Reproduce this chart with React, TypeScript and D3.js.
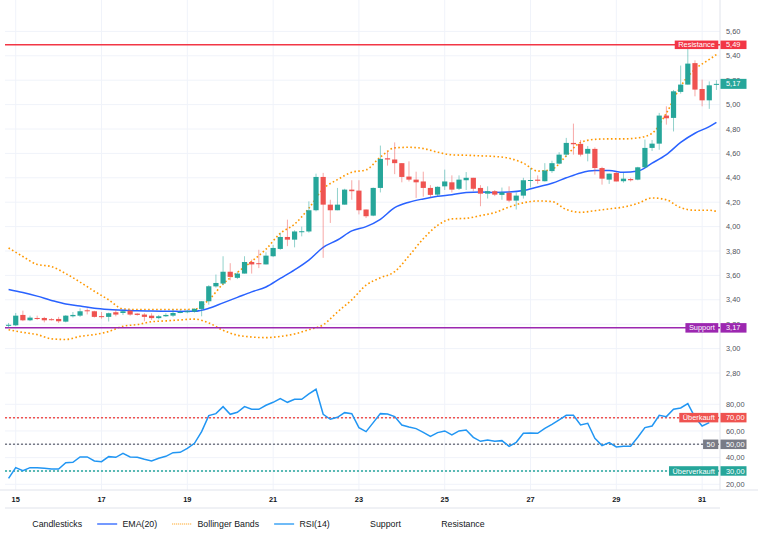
import React, { useEffect, useRef } from 'react';
import * as d3 from 'd3';

const W = 762;
const H = 550;

// ---- data ----
const candleOpen = [
  3.19, 3.191, 3.276, 3.232, 3.251, 3.251, 3.241, 3.243, 3.221, 3.265,
  3.27, 3.314, 3.306, 3.266, 3.26, 3.298, 3.292, 3.311, 3.287, 3.279,
  3.27, 3.25, 3.265, 3.27, 3.292, 3.3, 3.303, 3.325, 3.388, 3.51,
  3.533, 3.63, 3.58, 3.615, 3.71, 3.7, 3.69, 3.757, 3.817, 3.915,
  3.893, 3.96, 3.96, 4.134, 4.407, 4.18, 4.134, 4.18, 4.303, 4.295,
  4.14, 4.09, 4.317, 4.56, 4.55, 4.52, 4.41, 4.385, 4.37, 4.317,
  4.262, 4.33, 4.363, 4.31, 4.38, 4.4, 4.317, 4.27, 4.29, 4.26,
  4.277, 4.213, 4.254, 4.378, 4.385, 4.372, 4.455, 4.516, 4.59, 4.686,
  4.678, 4.598, 4.637, 4.48, 4.385, 4.44, 4.372, 4.39, 4.385, 4.486,
  4.645, 4.68, 4.91, 4.891, 5.104, 5.164, 5.34, 5.128, 5.035, 5.164,
];
const candleHigh = [
  3.21, 3.292, 3.311, 3.27, 3.27, 3.26, 3.25, 3.26, 3.275, 3.3,
  3.33, 3.33, 3.31, 3.3, 3.295, 3.32, 3.32, 3.32, 3.29, 3.29,
  3.29, 3.275, 3.29, 3.32, 3.32, 3.32, 3.33, 3.39, 3.52, 3.607,
  3.757, 3.7, 3.63, 3.757, 3.73, 3.81, 3.79, 3.85, 3.95, 4.057,
  3.97, 4.0, 4.207, 4.434, 4.44, 4.22, 4.317, 4.31, 4.38, 4.38,
  4.14, 4.32, 4.664, 4.617, 4.69, 4.52, 4.535, 4.45, 4.45, 4.34,
  4.33, 4.467, 4.42, 4.42, 4.447, 4.4, 4.34, 4.33, 4.3, 4.32,
  4.33, 4.28, 4.4, 4.48, 4.42, 4.52, 4.54, 4.61, 4.727, 4.844,
  4.71, 4.66, 4.65, 4.49, 4.435, 4.45, 4.44, 4.4, 4.49, 4.713,
  4.71, 4.932, 4.986, 5.12, 5.32, 5.465, 5.363, 5.205, 5.19, 5.2,
];
const candleLow = [
  3.17, 3.185, 3.225, 3.225, 3.235, 3.215, 3.23, 3.21, 3.215, 3.255,
  3.26, 3.28, 3.255, 3.245, 3.222, 3.265, 3.275, 3.27, 3.27, 3.224,
  3.235, 3.24, 3.26, 3.26, 3.29, 3.29, 3.295, 3.265, 3.36, 3.5,
  3.52, 3.56, 3.57, 3.615, 3.615, 3.66, 3.69, 3.75, 3.81, 3.84,
  3.83, 3.92, 3.95, 4.125, 3.744, 4.03, 4.134, 4.18, 4.22, 4.1,
  4.07, 4.085, 4.28, 4.5, 4.43, 4.363, 4.37, 4.235, 4.245, 4.24,
  4.25, 4.3, 4.28, 4.3, 4.3, 4.29, 4.167, 4.23, 4.25, 4.22,
  4.2, 4.14, 4.23, 4.32, 4.35, 4.37, 4.44, 4.51, 4.57, 4.59,
  4.575, 4.535, 4.426, 4.344, 4.35, 4.37, 4.36, 4.37, 4.38, 4.48,
  4.62, 4.63, 4.836, 4.78, 5.09, 5.164, 5.068, 4.986, 4.965, 5.12,
];
const candleClose = [
  3.195, 3.27, 3.232, 3.254, 3.247, 3.232, 3.236, 3.224, 3.27, 3.276,
  3.306, 3.306, 3.26, 3.26, 3.29, 3.279, 3.306, 3.279, 3.276, 3.26,
  3.25, 3.265, 3.276, 3.292, 3.3, 3.306, 3.326, 3.388, 3.511, 3.538,
  3.63, 3.588, 3.615, 3.71, 3.69, 3.695, 3.762, 3.825, 3.915, 3.893,
  3.96, 3.962, 4.134, 4.407, 4.18, 4.134, 4.18, 4.303, 4.29, 4.134,
  4.085, 4.317, 4.555, 4.55, 4.52, 4.407, 4.385, 4.363, 4.317, 4.26,
  4.326, 4.37, 4.303, 4.385, 4.4, 4.31, 4.27, 4.29, 4.262, 4.28,
  4.213, 4.254, 4.38, 4.382, 4.375, 4.46, 4.52, 4.59, 4.686, 4.675,
  4.59, 4.637, 4.48, 4.393, 4.434, 4.37, 4.393, 4.38, 4.486, 4.645,
  4.68, 4.91, 4.888, 5.109, 5.164, 5.336, 5.123, 5.035, 5.158, 5.17,
];

// candle indices at which the EMA and Bollinger values were read
const lineIdx = [
  0, 2, 4, 6, 8, 10, 12, 14, 16, 18, 20, 22, 24, 26, 28, 30, 32, 34, 36, 38,
  40, 42, 44, 46, 48, 50, 52, 54, 56, 58, 60, 62, 64, 66, 68, 70, 72, 74, 76, 78,
  80, 82, 84, 86, 88, 90, 92, 94, 96, 98, 99,
];
const ema20 = [
  3.485, 3.46, 3.43, 3.395, 3.365, 3.35, 3.33, 3.32, 3.315, 3.31,
  3.308, 3.306, 3.305, 3.306, 3.33, 3.375, 3.42, 3.465, 3.505, 3.575,
  3.645, 3.725, 3.83, 3.89, 3.965, 4.0, 4.06, 4.155, 4.2, 4.227,
  4.248, 4.262, 4.28, 4.283, 4.28, 4.283, 4.295, 4.325, 4.355, 4.4,
  4.44, 4.459, 4.459, 4.445, 4.455, 4.52, 4.59, 4.69, 4.765, 4.82, 4.855,
];
const bbUpper = [
  3.825, 3.755, 3.69, 3.672, 3.615, 3.545, 3.47, 3.4, 3.325, 3.32,
  3.32, 3.32, 3.32, 3.323, 3.4, 3.53, 3.625, 3.715, 3.815, 3.945,
  4.02, 4.15, 4.31, 4.385, 4.445, 4.465, 4.57, 4.645, 4.65, 4.64,
  4.61, 4.588, 4.585, 4.58, 4.575, 4.56, 4.52, 4.455, 4.47, 4.58,
  4.69, 4.715, 4.719, 4.719, 4.727, 4.765, 4.93, 5.15, 5.29, 5.37, 5.41,
];
const bbLower = [
  3.155, 3.133, 3.115, 3.08, 3.075, 3.1, 3.115, 3.14, 3.183, 3.197,
  3.22, 3.227, 3.235, 3.242, 3.21, 3.15, 3.11, 3.095, 3.09, 3.1,
  3.12, 3.155, 3.195, 3.3, 3.4, 3.52, 3.58, 3.63, 3.76, 3.9,
  4.01, 4.063, 4.068, 4.09, 4.115, 4.16, 4.195, 4.21, 4.205, 4.14,
  4.117, 4.13, 4.145, 4.16, 4.19, 4.235, 4.22, 4.155, 4.134, 4.134, 4.125,
];
// RSI(14), one value per candle (candles 0..98)
const rsi14 = [
  24.5, 32.5, 30.25, 32.5, 32.5, 32, 31.5, 31.5, 36.25, 36.5,
  40.5, 40.5, 37.5, 37, 40.75, 40.25, 43.25, 40.5, 40.25, 38.75,
  37.5, 39.5, 41, 43.75, 44, 47, 50.75, 59.5, 71.5, 73,
  78.25, 72.5, 74, 78.25, 76.25, 76.25, 79.25, 81.5, 84.25, 81.5,
  83.75, 83.75, 87.75, 91.25, 72.5, 68.75, 70.25, 73.75, 73, 62.5,
  59.5, 66.25, 73, 72.75, 70.75, 64.5, 63, 61.75, 59, 56,
  58.75, 60, 57, 60, 60.75, 55.25, 52.25, 53.25, 52.25, 52.75,
  48.5, 51.5, 58.25, 58.5, 58.25, 62, 65, 68.25, 71.75, 71.75,
  64.5, 65.75, 54.5, 49, 51.25, 48, 48.5, 48.5, 55.25, 62.5,
  63.75, 71.75, 70.75, 76.25, 77.25, 80.5, 70.25, 63.75, 66.25,
];

const xTickDays = [15, 17, 19, 21, 23, 25, 27, 29, 31];
const priceTicks = [2.8, 3.0, 3.2, 3.4, 3.6, 3.8, 4.0, 4.2, 4.4, 4.6, 4.8, 5.0, 5.2, 5.4, 5.6];
const rsiTicks = [20, 30, 40, 50, 60, 70, 80];

const supportLevel = 3.17;
const resistanceLevel = 5.49;
const rsiLevelValues = [70, 50, 30];
const rsiLevelNames = ['Überkauft', '50', 'Überverkauft'];
const rsiLevelColors = ['#ef5350', '#787b86', '#26a69a'];

const legendLabels = ['Candlesticks', 'EMA(20)', 'Bollinger Bands', 'RSI(14)', 'Support', 'Resistance'];
const legendKinds = ['none', 'line', 'dotted', 'line', 'none', 'none'];
const legendColors = ['none', '#2962ff', '#ff9800', '#2196f3', 'none', 'none'];

const UP = '#26a69a';
const DOWN = '#ef5350';
const FONT = '"Liberation Sans", Arial, sans-serif';

const START = new Date(2024, 0, 14, 20, 0, 0);
const candleTime = (i: number) => new Date(START.getTime() + i * 4 * 3600 * 1000);
const fmt = (v: number) => d3.format('.2f')(v).replace('.', ',');

export default function App() {
  const ref = useRef<SVGSVGElement>(null);

  useEffect(() => {
    const svg = d3.select(ref.current);
    svg.selectAll('*').remove();

    const left = 5;
    const right = 720;
    const axisY = 490;

    const x = d3
      .scaleTime()
      .domain([new Date(2024, 0, 14, 18), new Date(2024, 0, 31, 10)])
      .range([left, right]);
    const y = d3.scaleLinear().domain([2.8, 5.6]).range([373, 31.4]);
    const yr = d3.scaleLinear().domain([20, 80]).range([484.3, 404.3]);
    const cx = (i: number) => x(candleTime(i));

    const grid = svg.append('g');
    // horizontal grid
    grid
      .selectAll('line.hp')
      .data(priceTicks)
      .join('line')
      .attr('x1', left)
      .attr('x2', right)
      .attr('y1', (d) => y(d))
      .attr('y2', (d) => y(d))
      .attr('stroke', '#f0f3fa')
      .attr('stroke-width', 1);
    grid
      .selectAll('line.hr')
      .data(rsiTicks)
      .join('line')
      .attr('x1', left)
      .attr('x2', right)
      .attr('y1', (d) => yr(d))
      .attr('y2', (d) => yr(d))
      .attr('stroke', '#f0f3fa')
      .attr('stroke-width', 1);
    // vertical grid
    const dayDates = xTickDays.map((d) => new Date(2024, 0, d));
    grid
      .selectAll('line.v')
      .data(dayDates)
      .join('line')
      .attr('x1', (d) => x(d))
      .attr('x2', (d) => x(d))
      .attr('y1', 0)
      .attr('y2', axisY)
      .attr('stroke', '#f0f3fa')
      .attr('stroke-width', 1);

    // axes borders
    svg.append('line').attr('x1', right).attr('x2', right).attr('y1', 0).attr('y2', axisY)
      .attr('stroke', '#e0e3eb');
    svg.append('line').attr('x1', 0).attr('x2', W - 4).attr('y1', axisY).attr('y2', axisY)
      .attr('stroke', '#e0e3eb');
    svg.append('line').attr('x1', left).attr('x2', right).attr('y1', 508).attr('y2', 508)
      .attr('stroke', '#e0e3eb');

    // Bollinger bands
    const bandLine = (vals: number[]) =>
      d3
        .line<number>()
        .x((_, k) => cx(lineIdx[k]))
        .y((v) => y(v))
        .curve(d3.curveMonotoneX)(vals);
    [bbUpper, bbLower].forEach((vals) => {
      svg
        .append('path')
        .attr('d', bandLine(vals))
        .attr('fill', 'none')
        .attr('stroke', '#ff9800')
        .attr('stroke-width', 1.6)
        .attr('stroke-dasharray', '1.6 2.4');
    });

    // EMA
    svg
      .append('path')
      .attr('d', bandLine(ema20))
      .attr('fill', 'none')
      .attr('stroke', '#2962ff')
      .attr('stroke-width', 1.5);

    // support / resistance lines
    svg.append('line').attr('x1', left).attr('x2', right)
      .attr('y1', y(resistanceLevel)).attr('y2', y(resistanceLevel))
      .attr('stroke', '#f23645').attr('stroke-width', 1.5);
    svg.append('line').attr('x1', left).attr('x2', right)
      .attr('y1', y(supportLevel)).attr('y2', y(supportLevel))
      .attr('stroke', '#9c27b0').attr('stroke-width', 1.5);

    // candles
    const idx = d3.range(candleOpen.length);
    const colorOf = (i: number) => (candleClose[i] >= candleOpen[i] ? UP : DOWN);
    svg
      .append('g')
      .selectAll('line')
      .data(idx)
      .join('line')
      .attr('x1', (i) => cx(i))
      .attr('x2', (i) => cx(i))
      .attr('y1', (i) => y(candleHigh[i]))
      .attr('y2', (i) => y(candleLow[i]))
      .attr('stroke', colorOf)
      .attr('stroke-opacity', 0.5)
      .attr('stroke-width', 1);
    svg
      .append('g')
      .selectAll('rect')
      .data(idx)
      .join('rect')
      .attr('x', (i) => cx(i) - 2.6)
      .attr('width', 5.2)
      .attr('y', (i) => y(Math.max(candleOpen[i], candleClose[i])))
      .attr('height', (i) => Math.max(1, Math.abs(y(candleOpen[i]) - y(candleClose[i]))))
      .attr('fill', colorOf);

    // RSI reference lines
    rsiLevelValues.forEach((v, k) => {
      svg.append('line').attr('x1', left).attr('x2', right)
        .attr('y1', yr(v)).attr('y2', yr(v))
        .attr('stroke', rsiLevelColors[k]).attr('stroke-width', 1.5)
        .attr('stroke-dasharray', '2 2');
    });

    // RSI line
    svg
      .append('path')
      .attr(
        'd',
        d3
          .line<number>()
          .x((_, i) => cx(i))
          .y((v) => yr(v))(rsi14)
      )
      .attr('fill', 'none')
      .attr('stroke', '#2196f3')
      .attr('stroke-width', 1.5);

    // right axis tick labels
    const axisG = svg.append('g').attr('font-family', FONT).attr('font-size', 7.4).attr('fill', '#50535e');
    axisG
      .selectAll('text.p')
      .data(priceTicks)
      .join('text')
      .attr('x', 726)
      .attr('y', (d) => y(d))
      .attr('dy', '0.35em')
      .text((d) => fmt(d));
    axisG
      .selectAll('text.r')
      .data(rsiTicks)
      .join('text')
      .attr('x', 726)
      .attr('y', (d) => yr(d))
      .attr('dy', '0.35em')
      .text((d) => fmt(d));

    // time axis labels
    svg
      .append('g')
      .selectAll('text')
      .data(dayDates)
      .join('text')
      .attr('x', (d) => x(d))
      .attr('y', 499)
      .attr('dy', '0.35em')
      .attr('text-anchor', 'middle')
      .attr('font-family', FONT)
      .attr('font-size', 7.4)
      .attr('font-weight', 'bold')
      .attr('fill', '#131722')
      .text((d) => d3.timeFormat('%-d')(d));

    // label boxes
    const axisBox = (yy: number, text: string, color: string, h = 9.5) => {
      const g = svg.append('g');
      g.append('rect').attr('x', 720.5).attr('y', yy - h / 2).attr('width', 26).attr('height', h)
        .attr('fill', color);
      g.append('text').attr('x', 726).attr('y', yy).attr('dy', '0.35em')
        .attr('font-family', FONT).attr('font-size', 7.4).attr('fill', '#fff').text(text);
    };
    const sideBox = (yy: number, text: string, color: string, h = 9.5) => {
      const g = svg.append('g');
      const t = g.append('text').attr('y', yy).attr('dy', '0.35em')
        .attr('font-family', FONT).attr('font-size', 7.4).attr('fill', '#fff')
        .attr('text-anchor', 'end').attr('x', 718.3 - 3.5).text(text);
      const w = (t.node() as SVGTextElement).getComputedTextLength() + 7;
      g.insert('rect', 'text').attr('x', 718.3 - w).attr('y', yy - h / 2).attr('width', w)
        .attr('height', h).attr('fill', color);
    };

    sideBox(y(resistanceLevel), 'Resistance', '#f23645', 8.5);
    axisBox(y(resistanceLevel), fmt(resistanceLevel), '#f23645', 8.5);
    axisBox(y(candleClose[candleClose.length - 1]), fmt(candleClose[candleClose.length - 1]), UP, 10);
    sideBox(y(supportLevel), 'Support', '#9c27b0');
    axisBox(y(supportLevel), fmt(supportLevel), '#9c27b0');
    rsiLevelValues.forEach((v, k) => {
      sideBox(yr(v), rsiLevelNames[k], rsiLevelColors[k]);
      axisBox(yr(v), fmt(v), rsiLevelColors[k]);
    });

    // legend
    const lg = svg.append('g').attr('font-family', FONT).attr('font-size', 8.8).attr('fill', '#131722');
    let lx = 7;
    const ly = 524;
    legendLabels.forEach((label, k) => {
      if (legendKinds[k] !== 'none') {
        const ln = lg.append('line').attr('x1', lx).attr('x2', lx + 20).attr('y1', ly).attr('y2', ly)
          .attr('stroke', legendColors[k]).attr('stroke-width', legendKinds[k] === 'dotted' ? 1 : 1.3);
        if (legendKinds[k] === 'dotted') ln.attr('stroke-dasharray', '1 1');
      }
      const t = lg.append('text').attr('x', lx + 25.3).attr('y', ly).attr('dy', '0.35em').text(label);
      const w = (t.node() as SVGTextElement).getComputedTextLength();
      lx = lx + 25.3 + w + 15;
    });
  }, []);

  return (
    <svg
      ref={ref}
      width={W}
      height={H}
      style={{ position: 'absolute', left: 0, top: 0, background: '#fff' }}
    />
  );
}
